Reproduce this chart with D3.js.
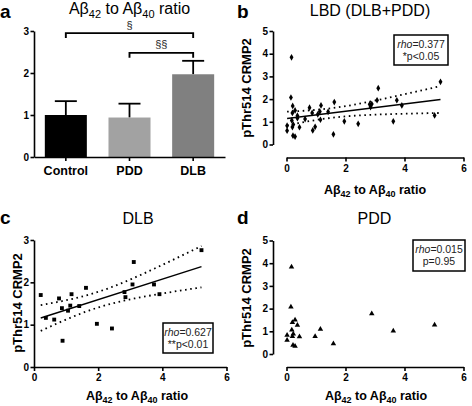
<!DOCTYPE html>
<html><head><meta charset="utf-8">
<script src="https://cdn.jsdelivr.net/npm/d3@7/dist/d3.min.js"></script>
<style>
html,body{margin:0;padding:0;background:#fff;}
text{font-family:Arial,"Liberation Sans",Helvetica,sans-serif;}
</style></head>
<body>
<svg id="chart" width="472" height="406"></svg>
<script>
// ---------- data ----------
const barCategories = ["Control", "PDD", "DLB"];
const barMeans = [1.0, 0.94, 1.97];
const barSEM = [0.33, 0.33, 0.32];
const sigLabels = ["§", "§§"];
const sigPairs = [["Control", "DLB"], ["PDD", "DLB"]];
const sigLevels = [2.95, 2.48];

const dlbX = [0.21, 0.37, 0.63, 0.78, 0.87, 0.89, 1.06, 1.13, 1.17, 1.41, 1.62, 1.96, 2.43, 2.82, 2.85, 3.07, 3.11, 3.74, 3.91, 5.22];
const dlbY = [1.70, 1.16, 1.12, 1.62, 1.39, 0.62, 1.33, 1.45, 1.72, 1.44, 1.87, 1.02, 0.91, 1.77, 1.65, 1.95, 2.48, 1.95, 1.72, 2.76];

const pddX = [0.17, 0.15, 0.20, 0.29, 0.37, 0.18, 0.23, 0.02, 0.02, 0.20, 0.44, 0.22, 0.29, 0.97, 1.15, 1.59, 2.89, 3.62, 5.02];
const pddY = [3.84, 2.07, 1.39, 1.50, 1.27, 1.06, 0.88, 0.83, 0.61, 0.77, 0.76, 0.39, 0.35, 0.78, 1.09, 0.45, 1.78, 1.02, 1.28];

const lbdX = dlbX.concat(pddX);
const lbdY = dlbY.concat(pddY);

const yTicksA = [0, 1, 2, 3];
const yTicks5 = [0, 1, 2, 3, 4, 5];
const yTicks3 = [0, 1, 2, 3];
const xTicks = [0, 2, 4, 6];

const statsB = ["0.377", "*p<0.05"];
const statsC = ["0.627", "**p<0.01"];
const statsD = ["0.015", "p=0.95"];

// ---------- styles ----------
const barColors = ["#000000", "#a2a2a2", "#808080"];
const FONT = 'Arial,"Liberation Sans",Helvetica,sans-serif';
const fmt = d3.format("d");

const svg = d3.select("#chart");

function styleAxis(g) {
  g.selectAll("path.domain").attr("stroke", "#000").attr("stroke-width", 1.6);
  g.selectAll(".tick line").attr("stroke", "#000").attr("stroke-width", 1.6);
  g.selectAll(".tick text").attr("font-size", 10).attr("font-weight", "bold")
    .attr("font-family", FONT).attr("fill", "#000");
}

function ratioTitle(g, x, y, size, bold) {
  const t = g.append("text").attr("x", x).attr("y", y).attr("text-anchor", "middle")
    .attr("font-size", size).attr("font-weight", bold ? "bold" : "normal").attr("fill", "#000");
  const sub = Math.round(size * 0.7);
  t.append("tspan").text("Aβ");
  t.append("tspan").attr("font-size", sub).attr("dy", size * 0.25).text("42");
  t.append("tspan").attr("dy", -size * 0.25).text(" to Aβ");
  t.append("tspan").attr("font-size", sub).attr("dy", size * 0.25).text("40");
  t.append("tspan").attr("dy", -size * 0.25).text(" ratio");
  return t;
}

function panelLetter(x, y, l) {
  svg.append("text").attr("x", x).attr("y", y).attr("font-size", 19).attr("font-weight", "bold").text(l);
}

// ---------- regression ----------
function tQuant(df) {
  const z = 1.959964;
  const z3 = z ** 3, z5 = z ** 5, z7 = z ** 7;
  return z + (z3 + z) / (4 * df) + (5 * z5 + 16 * z3 + 3 * z) / (96 * df * df)
    + (3 * z7 + 19 * z5 + 17 * z3 - 15 * z) / (384 * df ** 3);
}
function fit(xs, ys) {
  const n = xs.length, mx = d3.mean(xs), my = d3.mean(ys);
  let sxx = 0, sxy = 0;
  for (let i = 0; i < n; i++) { sxx += (xs[i] - mx) ** 2; sxy += (xs[i] - mx) * (ys[i] - my); }
  const b = sxy / sxx, a = my - b * mx;
  let ssr = 0;
  for (let i = 0; i < n; i++) ssr += (ys[i] - a - b * xs[i]) ** 2;
  const s = Math.sqrt(ssr / (n - 2)), t = tQuant(n - 2);
  const hw = x => t * s * Math.sqrt(1 / n + (x - mx) ** 2 / sxx);
  return { a, b, hw, x0: d3.min(xs), x1: d3.max(xs) };
}

function drawFit(g, xs, ys, xS, yS) {
  const f = fit(xs, ys);
  const pts = d3.range(0, 61).map(i => f.x0 + (f.x1 - f.x0) * i / 60);
  const line = d3.line().x(d => xS(d[0])).y(d => yS(d[1]));
  g.append("path").attr("d", line([[f.x0, f.a + f.b * f.x0], [f.x1, f.a + f.b * f.x1]]))
    .attr("stroke", "#000").attr("stroke-width", 1.4).attr("fill", "none");
  [1, -1].forEach(sg => {
    g.append("path").attr("d", line(pts.map(x => [x, f.a + f.b * x + sg * f.hw(x)])))
      .attr("stroke", "#000").attr("stroke-width", 1.8).attr("fill", "none")
      .attr("stroke-dasharray", "1.6,3.6");
  });
}

function statBox(g, x, y, w, h, st) {
  g.append("rect").attr("x", x).attr("y", y).attr("width", w).attr("height", h)
    .attr("fill", "#fff").attr("stroke", "#000").attr("stroke-width", 1.5);
  const t1 = g.append("text").attr("x", x + w / 2).attr("y", y + 12.5).attr("text-anchor", "middle")
    .attr("font-size", 10.5).attr("fill", "#222");
  t1.append("tspan").attr("font-style", "italic").text("rho");
  t1.append("tspan").text("=" + st[0]);
  g.append("text").attr("x", x + w / 2).attr("y", y + 25).attr("text-anchor", "middle")
    .attr("font-size", 10.5).attr("fill", "#222").text(st[1]);
}

function yTitle(x, y) {
  svg.append("text").attr("transform", `translate(${x},${y}) rotate(-90)`).attr("text-anchor", "middle")
    .attr("font-size", 13).attr("font-weight", "bold").text("pThr514 CRMP2");
}

function scatter(g, xs, ys, xS, yS, sym, size) {
  const s = d3.symbol().type(sym).size(size);
  g.selectAll(null).data(xs.map((x, i) => [x, ys[i]])).enter().append("path")
    .attr("d", s).attr("transform", d => `translate(${xS(d[0])},${yS(d[1])})`).attr("fill", "#000");
}

function leftAxis(g, x, scale, ticks) {
  const a = g.append("g").attr("transform", `translate(${x},0)`)
    .call(d3.axisLeft(scale).tickValues(ticks).tickFormat(fmt).tickSize(3.5).tickSizeOuter(0).tickPadding(1.5));
  styleAxis(a);
  return a;
}
function bottomAxis(g, y, scale, ticks) {
  const a = g.append("g").attr("transform", `translate(0,${y})`)
    .call(d3.axisBottom(scale).tickValues(ticks).tickFormat(fmt).tickSize(4).tickSizeOuter(0).tickPadding(3));
  styleAxis(a);
  return a;
}

// ================= Panel a =================
{
  const g = svg.append("g");
  const xA = d3.scaleBand().domain(barCategories).range([34, 225]).paddingInner(0.34).paddingOuter(0.17);
  const yA = d3.scaleLinear().domain([0, 3]).range([157, 31]);

  barCategories.forEach((c, i) => {
    const cx = xA(c) + xA.bandwidth() / 2;
    g.append("line").attr("x1", cx).attr("x2", cx).attr("y1", yA(barMeans[i])).attr("y2", yA(barMeans[i] + barSEM[i]))
      .attr("stroke", "#000").attr("stroke-width", 1.8);
    g.append("line").attr("x1", cx - 11).attr("x2", cx + 11).attr("y1", yA(barMeans[i] + barSEM[i])).attr("y2", yA(barMeans[i] + barSEM[i]))
      .attr("stroke", "#000").attr("stroke-width", 1.8);
  });
  g.selectAll("rect.bar").data(barCategories).enter().append("rect")
    .attr("x", d => xA(d)).attr("width", xA.bandwidth())
    .attr("y", (d, i) => yA(barMeans[i])).attr("height", (d, i) => yA(0) - yA(barMeans[i]))
    .attr("fill", (d, i) => barColors[i]);

  leftAxis(g, 34, yA, yTicksA);
  const axb = g.append("g").attr("transform", "translate(0,157)")
    .call(d3.axisBottom(xA).tickSize(4).tickSizeOuter(0).tickPadding(5));
  styleAxis(axb);
  axb.selectAll(".tick text").attr("font-size", 12.5);

  sigPairs.forEach((p, i) => {
    const x1 = xA(p[0]) + xA.bandwidth() / 2, x2 = xA(p[1]) + xA.bandwidth() / 2;
    const yy = yA(sigLevels[i]);
    g.append("path").attr("d", `M${x1},${yy + 5}V${yy}H${x2}V${yy + 5}`)
      .attr("fill", "none").attr("stroke", "#000").attr("stroke-width", 1.9);
    g.append("text").attr("x", (x1 + x2) / 2).attr("y", yy - 4.5).attr("text-anchor", "middle")
      .attr("font-size", 11).attr("fill", "#222").text(sigLabels[i]);
  });

  ratioTitle(g, 129.5, 13.5, 16, false);
  panelLetter(0, 17.5, "a");
}

// ================= Panel b =================
{
  const g = svg.append("g");
  const xB = d3.scaleLinear().domain([0, 6]).range([286.5, 463.5]);
  const yB = d3.scaleLinear().domain([0, 5]).range([144.5, 31]);
  leftAxis(g, 273, yB, yTicks5);
  bottomAxis(g, 157.5, xB, xTicks);
  drawFit(g, lbdX, lbdY, xB, yB);
  scatter(g, lbdX, lbdY, xB, yB, d3.symbolDiamond, 13);
  statBox(g, 394, 35, 54, 30, statsB);
  g.append("text").attr("x", 370).attr("y", 16).attr("text-anchor", "middle").attr("font-size", 16).text("LBD (DLB+PDD)");
  ratioTitle(g, 375, 194, 12.5, true);
  yTitle(251, 88);
  panelLetter(237, 17.5, "b");
}

// ================= Panel c =================
{
  const g = svg.append("g");
  const xC = d3.scaleLinear().domain([0, 6]).range([34, 226.5]);
  const yC = d3.scaleLinear().domain([0, 3]).range([367, 240]);
  leftAxis(g, 34, yC, yTicks3);
  bottomAxis(g, 367, xC, xTicks);
  drawFit(g, dlbX, dlbY, xC, yC);
  scatter(g, dlbX, dlbY, xC, yC, d3.symbolSquare, 15);
  statBox(g, 163, 323, 50, 30, statsC);
  g.append("text").attr("x", 138).attr("y", 224).attr("text-anchor", "middle").attr("font-size", 16).text("DLB");
  ratioTitle(g, 137, 400, 12.5, true);
  yTitle(21.5, 303);
  panelLetter(0, 224, "c");
}

// ================= Panel d =================
{
  const g = svg.append("g");
  const xD = d3.scaleLinear().domain([0, 6]).range([286.5, 463.5]);
  const yD = d3.scaleLinear().domain([0, 5]).range([354, 240.5]);
  leftAxis(g, 273, yD, yTicks5);
  bottomAxis(g, 367, xD, xTicks);
  scatter(g, pddX, pddY, xD, yD, d3.symbolTriangle, 13);
  statBox(g, 413, 240, 52, 31, statsD);
  g.append("text").attr("x", 374.5).attr("y", 224).attr("text-anchor", "middle").attr("font-size", 16).text("PDD");
  ratioTitle(g, 376, 400, 12.5, true);
  yTitle(251, 298);
  panelLetter(237, 224, "d");
}
</script>
</body></html>
